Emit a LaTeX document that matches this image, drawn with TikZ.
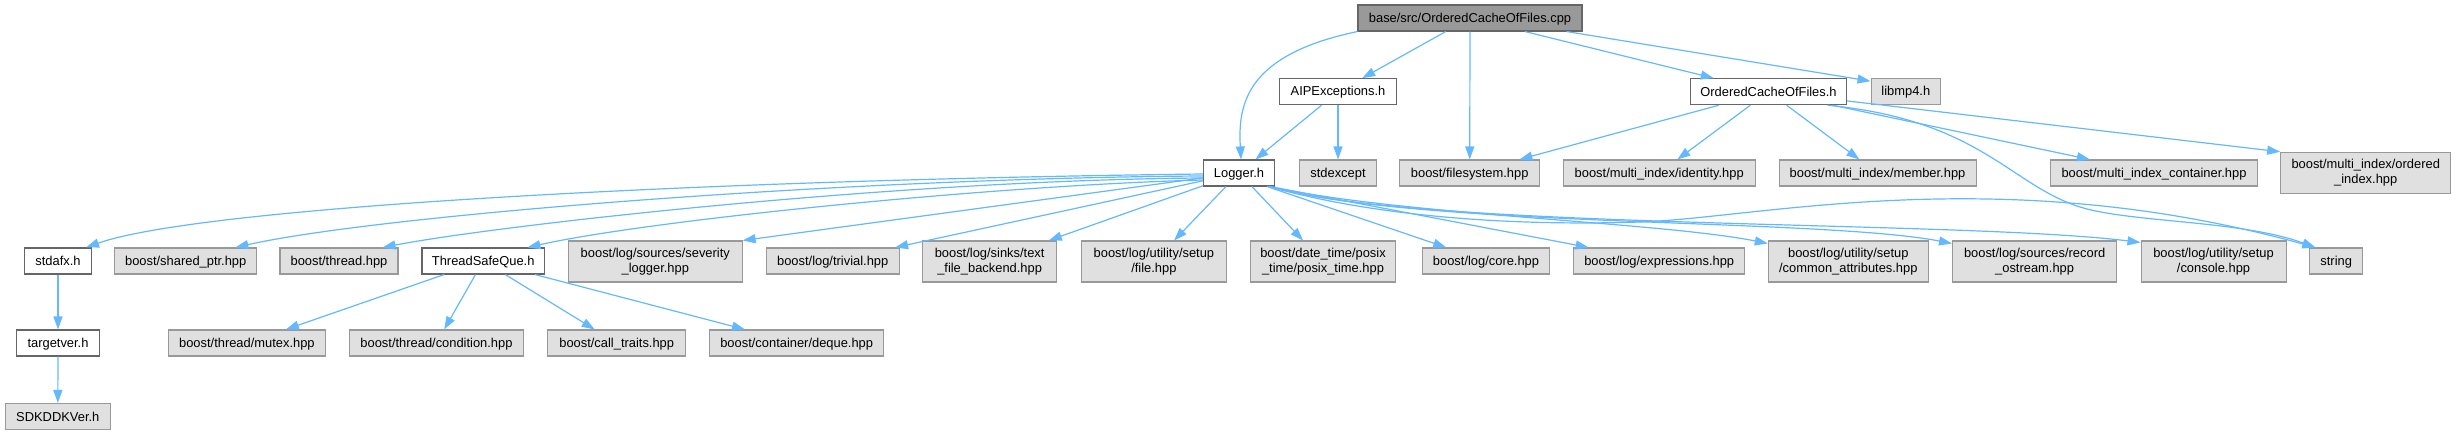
\documentclass[tikz,border=0pt]{standalone}
\usepackage{fontspec}
\setmainfont{Liberation Sans}
\usetikzlibrary{arrows.meta}
\definecolor{edgec}{HTML}{63B8FF}
\definecolor{grayfill}{HTML}{E0E0E0}
\definecolor{grayline}{HTML}{999999}
\definecolor{darkline}{HTML}{666666}
\definecolor{rootfill}{HTML}{999999}
\newcommand\dxstrut{\rule[-1pt]{0pt}{12pt}}
\begin{document}
\begin{tikzpicture}[x=1pt,y=-1pt,
  box/.style={rectangle, line width=1.05pt, inner sep=0pt, minimum height=26pt,
    font=\fontsize{12.9}{15}\selectfont, align=center, execute at begin node=\dxstrut},
  tall/.style={minimum height=41pt},
  wbox/.style={box, fill=white, draw=darkline},
  gbox/.style={box, fill=grayfill, draw=grayline},
  rootbox/.style={box, fill=rootfill, draw=darkline},
  edge/.style={draw=edgec, line width=1.2pt, -{Triangle[length=13pt,width=9pt]}}
]
\useasboundingbox (0,0) rectangle (2456,435);

% row 1
\node[rootbox, minimum width=224pt] (root) at (1470,18) {base/src/OrderedCacheOfFiles.cpp};
% row 2
\node[wbox, minimum width=117pt] (aip) at (1338,91.7) {AIPExceptions.h};
\node[wbox, minimum width=156pt] (ocf) at (1768.5,91.7) {OrderedCacheOfFiles.h};
\node[gbox, minimum width=69.5pt] (libmp4) at (1905.8,91.7) {libmp4.h};
% row 3
\node[wbox, minimum width=71pt] (logger) at (1239,173) {Logger.h};
\node[gbox, minimum width=77.4pt] (stdexcept) at (1338,173) {stdexcept};
\node[gbox, minimum width=139.5pt] (filesystem) at (1469.7,173) {boost/filesystem.hpp};
\node[gbox, minimum width=191.6pt] (identity) at (1659.2,173) {boost/multi\_index/identity.hpp};
\node[gbox, minimum width=197pt] (member) at (1877.5,173) {boost/multi\_index/member.hpp};
\node[gbox, minimum width=206.6pt] (container) at (2154,173) {boost/multi\_index\_container.hpp};
\node[gbox, tall, minimum width=170pt] (ordered) at (2365.7,172.8) {boost/multi\_index/ordered\\\dxstrut\_index.hpp};
% row 4
\node[wbox, minimum width=67pt] (stdafx) at (58,261) {stdafx.h};
\node[gbox, minimum width=142.3pt] (sharedptr) at (185.7,261) {boost/shared\_ptr.hpp};
\node[gbox, minimum width=118pt] (thread) at (339,261) {boost/thread.hpp};
\node[wbox, minimum width=122.4pt] (tsq) at (483.2,261) {ThreadSafeQue.h};
\node[gbox, tall, minimum width=173.6pt] (severity) at (655.3,261.5) {boost/log/sources/severity\\\dxstrut\_logger.hpp};
\node[gbox, minimum width=133.3pt] (trivial) at (832.7,261) {boost/log/trivial.hpp};
\node[gbox, tall, minimum width=134.4pt] (textfile) at (989.6,261.5) {boost/log/sinks/text\\\dxstrut\_file\_backend.hpp};
\node[gbox, tall, minimum width=145pt] (file) at (1153.9,261.5) {boost/log/utility/setup\\\dxstrut/file.hpp};
\node[gbox, tall, minimum width=145pt] (posix) at (1323,261.5) {boost/date\_time/posix\\\dxstrut\_time/posix\_time.hpp};
\node[gbox, minimum width=126.6pt] (core) at (1486,261) {boost/log/core.hpp};
\node[gbox, minimum width=171pt] (expressions) at (1659.2,261) {boost/log/expressions.hpp};
\node[gbox, tall, minimum width=160pt] (common) at (1848.3,261.5) {boost/log/utility/setup\\\dxstrut/common\_attributes.hpp};
\node[gbox, tall, minimum width=164.2pt] (record) at (2034.6,261.5) {boost/log/sources/record\\\dxstrut\_ostream.hpp};
\node[gbox, tall, minimum width=145pt] (console) at (2213.5,261.5) {boost/log/utility/setup\\\dxstrut/console.hpp};
\node[gbox, minimum width=52.6pt] (string) at (2336.2,261) {string};
% row 5
\node[wbox, minimum width=82.7pt] (targetver) at (58,343) {targetver.h};
\node[gbox, minimum width=157pt] (mutex) at (246.9,343) {boost/thread/mutex.hpp};
\node[gbox, minimum width=174pt] (condition) at (436.5,343) {boost/thread/condition.hpp};
\node[gbox, minimum width=138pt] (calltraits) at (616.7,343) {boost/call\_traits.hpp};
\node[gbox, minimum width=174pt] (deque) at (796.7,343) {boost/container/deque.hpp};
% row 6
\node[gbox, minimum width=105.2pt] (sdk) at (57.8,416.5) {SDKDDKVer.h};

% root edges
\draw[edge] (root.south west) .. controls (1245,55) and (1238,105) .. ([xshift=2pt]logger.north);
\draw[edge] (root) -- (aip);
\draw[edge] (root) -- (filesystem);
\draw[edge] (root) -- (ocf);
\draw[edge] ([xshift=-16pt]root.south east) -- ([yshift=-3pt]libmp4.north west);
% AIPExceptions
\draw[edge] (aip) -- (logger);
\draw[edge] (aip) -- (stdexcept);
% OrderedCacheOfFiles.h
\draw[edge] (ocf) -- (filesystem);
\draw[edge] (ocf) -- (identity);
\draw[edge] (ocf) -- (member);
\draw[edge] (ocf) -- (container);
\draw[edge] (ocf) -- (ordered.north west);
\draw[edge] ([xshift=-19.5pt]ocf.south east) .. controls (1980,120) and (2010,185) .. (2080,207)
  .. controls (2130,222.7) and (2240,220) .. ([xshift=6pt]string.north west);
% Logger.h left fan
\draw[edge] ([yshift=-1pt]logger.west) .. controls (700,180) and (200,207) .. ([xshift=-6pt]stdafx.north east);
\draw[edge] ([yshift=-3pt]logger.west) .. controls (850,178) and (380,215) .. ([xshift=-22pt]sharedptr.north east);
\draw[edge] ([yshift=-5pt]logger.west) .. controls (900,180) and (500,225) .. ([xshift=-16pt]thread.north east);
\draw[edge] ([yshift=-7pt]logger.west) .. controls (1000,185) and (650,220) .. ([xshift=-17.5pt]tsq.north east);
\draw[edge] (logger) -- (severity.north east);
\draw[edge] (logger) -- (trivial);
\draw[edge] (logger) -- (textfile);
\draw[edge] (logger) -- (file);
\draw[edge] (logger) -- (posix);
\draw[edge] ([xshift=-8pt]logger.south east) -- (core);
\draw[edge] ([xshift=-5pt]logger.south east) -- (expressions);
\draw[edge] ([xshift=-6pt]logger.south east) .. controls (1400,215) and (1660,222) .. ([yshift=-3pt]common.north west);
\draw[edge] ([xshift=-6pt]logger.south east) .. controls (1420,228) and (1820,218) .. ([yshift=-3pt]record.north west);
\draw[edge] ([xshift=-6pt]logger.south east) .. controls (1420,230) and (1960,220) .. ([yshift=-2pt]console.north west);
\draw[edge] ([xshift=-6pt]logger.south east) .. controls (1380,218) and (1520,226) .. (1640,222)
  .. controls (1760,218) and (2000,160) .. ([xshift=6pt]string.north west);
% ThreadSafeQue.h
\draw[edge] (tsq) -- (mutex);
\draw[edge] (tsq) -- (condition);
\draw[edge] (tsq) -- (calltraits);
\draw[edge] (tsq) -- (deque);
% stdafx chain
\draw[edge] (stdafx) -- (targetver);
\draw[edge] (targetver) -- (sdk);
\end{tikzpicture}
\end{document}
